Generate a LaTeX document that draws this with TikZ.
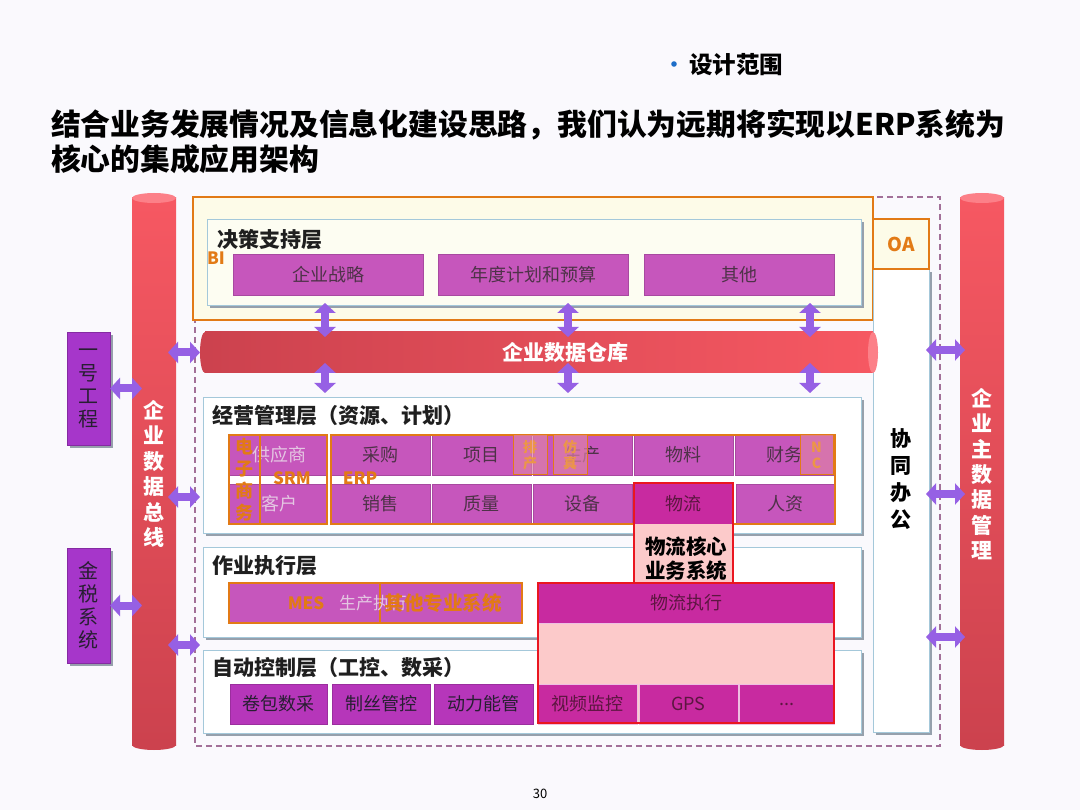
\documentclass[tikz,border=0pt]{standalone}
\usepackage{fontspec}
\setmainfont{Noto Sans CJK SC}
\usepackage{xcolor}
\definecolor{pagebg}{RGB}{250,249,253}
\definecolor{busred}{RGB}{246,88,98}
\definecolor{busdark}{RGB}{204,66,78}
\definecolor{buslight}{RGB}{252,128,136}
\definecolor{cellmag}{RGB}{198,86,188}
\definecolor{celldeep}{RGB}{200,42,160}
\definecolor{ctrlmag}{RGB}{182,54,186}
\definecolor{sideviolet}{RGB}{166,54,202}
\definecolor{arrowviolet}{RGB}{150,96,228}
\definecolor{frameorange}{RGB}{226,122,22}
\definecolor{layerline}{RGB}{164,200,218}
\definecolor{creamfill}{RGB}{253,251,232}
\definecolor{creamlight}{RGB}{253,253,242}
\definecolor{pinkfill}{RGB}{252,202,202}
\definecolor{logred}{RGB}{234,22,32}
\definecolor{celltext}{RGB}{78,50,72}
\definecolor{logtext}{RGB}{92,22,64}
\definecolor{sidetext}{RGB}{40,30,50}
\definecolor{fadetext}{RGB}{228,198,226}
\definecolor{tagfill}{RGB}{222,128,168}
\definecolor{tagtext}{RGB}{236,150,70}
\definecolor{dashpurple}{RGB}{162,112,152}
\definecolor{shadowgray}{RGB}{150,160,172}
\definecolor{bulletblue}{RGB}{30,110,200}
\usepackage{tikz}
\usetikzlibrary{arrows.meta,positioning,shadows}

\begin{document}
\begin{tikzpicture}[x=1pt, y=-1pt,
  every node/.style={inner sep=0pt, outer sep=0pt},
  layer/.style={draw=layerline, fill=white, line width=0.8pt, anchor=north west, drop shadow={shadow xshift=3pt, shadow yshift=-3pt, fill=shadowgray, opacity=1}},
  layertitle/.style={anchor=west, font=\fontsize{21}{23}\selectfont\bfseries, text=black!88},
  cell/.style={draw=cellmag!85!black, fill=cellmag, line width=0.4pt, anchor=north west, minimum width=99pt, minimum height=40pt, text=celltext, font=\fontsize{18}{20}\selectfont},
  ctrlcell/.style={cell, fill=ctrlmag, draw=ctrlmag!85!black, text=sidetext},
  logcell/.style={cell, fill=celldeep, draw=white!70!celldeep, text=logtext},
  tagbox/.style={draw=frameorange, line width=1pt, fill=tagfill, fill opacity=0.7, text opacity=1, anchor=north west, minimum width=34pt, minimum height=40pt, align=center, text=tagtext, font=\fontsize{14}{16}\selectfont\bfseries},
  orangetext/.style={text=frameorange, font=\fontsize{17}{19}\selectfont\bfseries},
  dblarrow/.style={arrowviolet, line width=8pt, {Triangle[width=21pt,length=10pt]}-{Triangle[width=21pt,length=10pt]}},
  busnode/.style={minimum width=44pt, minimum height=547pt, top color=busred, bottom color=busdark},
  sidebox/.style={fill=sideviolet, draw=sideviolet!80!black, minimum width=43pt, align=center, text=sidetext, font=\fontsize{20}{23}\selectfont, drop shadow={shadow xshift=3pt, shadow yshift=-3pt, fill=shadowgray, opacity=1}},
  vbustext/.style={align=center, text=white, font=\fontsize{21}{25.4}\selectfont\bfseries}
]
  % page
  \fill[pagebg] (0,0) rectangle (1080,810);
  \useasboundingbox (0,0) rectangle (1080,810);

  % heading
  \fill[bulletblue] (674,64) circle (2.8);
  \node[anchor=west, font=\fontsize{23.5}{26}\selectfont\bfseries] (scope) at (689,65) {设计范围};
  \node[anchor=north west, align=left, font=\fontsize{29.8}{35}\selectfont\bfseries] (headline) at (51,110) {结合业务发展情况及信息化建设思路，我们认为远期将实现以ERP系统为\\核心的集成应用架构};

  % dashed application frame
  \draw[dashpurple, line width=1.2pt, dash pattern=on 6pt off 4pt] (195,197) rectangle (940,746);

  % two buses
  \fill[busdark] (154,745) ellipse (22 and 5);
  \node[busnode] (bus) at (154,471.5) {};
  \fill[buslight] (bus.north) ellipse (22 and 5);
  \node[vbustext] (bustxt) at (154,474) {企\\业\\数\\据\\总\\线};
  \fill[busdark] (982,745) ellipse (22 and 5);
  \node[busnode] (mdm) at (982,471.5) {};
  \fill[buslight] (mdm.north) ellipse (22 and 5);
  \node[vbustext] (mdmtxt) at (982,474) {企\\业\\主\\数\\据\\管\\理};

  % outside systems
  \node[sidebox, minimum height=113pt] (yihao) at (88.5,388.5) {一\\号\\工\\程};
  \node[sidebox, minimum height=115pt] (jinshui) at (88.5,605.5) {金\\税\\系\\统};

  % decision layer with BI / OA
  \node[draw=frameorange, line width=2pt, fill=creamfill, anchor=north west, minimum width=680pt, minimum height=123pt] (oaframe) at (193,197) {};
  \node[layer, fill=creamlight, minimum width=654pt, minimum height=86pt] (decide) at (207,219) {};
  \node[layertitle] (decidetitle) at (217,240) {决策支持层};
  \node[orangetext, anchor=west] (bi) at (207,258) {BI};
  \node[cell, minimum width=190pt, minimum height=41pt] (zhanlue) at (233,254) {企业战略};
  \node[cell, minimum width=190pt, minimum height=41pt] (yusuan) at (438,254) {年度计划和预算};
  \node[cell, minimum width=190pt, minimum height=41pt] (qita) at (644,254) {其他};

  % office column
  \node[layer, minimum width=56pt, minimum height=463pt] (coop) at (873,269) {};
  \node[align=center, font=\fontsize{21}{27}\selectfont\bfseries] (cooptxt) at (901,479) {协\\同\\办\\公};
  \node[draw=frameorange, line width=2pt, fill=creamfill, anchor=north west, minimum width=56pt, minimum height=50pt, text=frameorange, font=\fontsize{19}{21}\selectfont\bfseries] (oa) at (873,219) {OA};

  % data warehouse
  \fill[busdark] (205,352.5) ellipse (5 and 20.5);
  \node[anchor=north west, minimum width=668pt, minimum height=41pt, left color=busdark, right color=busred] (wh) at (205,332) {};
  \fill[buslight] (wh.east) ellipse (5 and 20.5);
  \node[text=white, font=\fontsize{21}{23}\selectfont\bfseries] (whtxt) at (565,352) {企业数据仓库};

  % management layer
  \node[layer, minimum width=658pt, minimum height=136pt] (mgmt) at (203,397) {};
  \node[layertitle] (mgmttitle) at (212,416) {经营管理层（资源、计划）};
  \node[cell, minimum width=98pt, text=fadetext] (gys) at (229,435) {\hspace*{2pt}供应商};
  \node[cell, minimum width=98pt, text=fadetext] (kehu) at (229,484) {\hspace*{2pt}客户};
  \foreach \nm/\txt [count=\i from 0] in {caigou/采购, xiangmu/项目, shengchan/生产, wuliao/物料, caiwu/财务}
    \node[cell] (\nm) at ({331+101*\i},435) {\txt};
  \foreach \nm/\txt [count=\i from 0] in {xiaoshou/销售, zhiliang/质量, shebei/设备}
    \node[cell] (\nm) at ({331+101*\i},484) {\txt};
  \node[cell] (renzi) at (736,484) {人资};
  \node[draw=frameorange, line width=1.5pt, anchor=north west, minimum width=31pt, minimum height=89pt, align=center, text=frameorange, font=\fontsize{18}{22}\selectfont\bfseries] (dzsw) at (229,435) {电\\子\\商\\务};
  \draw[frameorange, line width=1.5pt] (gys.north west) rectangle (kehu.south east);
  \draw[frameorange, line width=1.5pt] (caigou.north west) rectangle (renzi.south east);
  \node[orangetext] (srm) at (292,478) {SRM};
  \node[orangetext] (erp) at (360,478) {ERP};
  \node[tagbox] (paichan) at (513,435) {排\\产};
  \node[tagbox] (fangzhen) at (553,435) {仿\\真};
  \node[tagbox, minimum width=33pt] (nc) at (800,435) {N\\C};

  % execution layer
  \node[layer, minimum width=658pt, minimum height=90pt] (exec) at (203,547) {};
  \node[layertitle] (exectitle) at (212,566) {作业执行层};
  \node[cell, draw=frameorange, line width=1.5pt, minimum width=151pt] (mes) at (229,583) {};
  \node[cell, draw=frameorange, line width=1.5pt, minimum width=142pt] (zhuanye) at (380,583) {};
  \node[orangetext] (mestxt) at (306,603) {MES};
  \node[anchor=west, text=fadetext, font=\fontsize{17}{19}\selectfont] (scexec) at (339,603) {生产执行};
  \node[orangetext, font=\fontsize{19.5}{21}\selectfont\bfseries] (zhuanyetxt) at (443,603) {其他专业系统};

  % automatic control layer
  \node[layer, minimum width=658pt, minimum height=83pt] (ctrl) at (203,650) {};
  \node[layertitle] (ctrltitle) at (212,668) {自动控制层（工控、数采）};
  \node[ctrlcell, minimum width=97pt] (juanbao) at (230,684) {卷包数采};
  \node[ctrlcell, minimum width=98pt] (zhisi) at (332,684) {制丝管控};
  \node[ctrlcell, minimum width=99pt] (dongli) at (434,684) {动力能管};

  % logistics core business system
  \node[fill=pinkfill, anchor=north west, minimum width=99pt, minimum height=100pt] (logcore) at (634,483) {};
  \node[logcell, draw=none] (wuliu) at (634,484) {物流};
  \draw[logred, line width=2pt] (logcore.north west) rectangle (logcore.south east);
  \node[align=center, font=\fontsize{20.5}{24}\selectfont\bfseries] (logname) at (686,559) {物流核心\\业务系统};
  \node[fill=pinkfill, anchor=north west, minimum width=296pt, minimum height=140pt] (logsys) at (538,583) {};
  \node[logcell, minimum width=296pt] (wlzx) at (538,583) {物流执行};
  \node[logcell] (shipin) at (538,684) {视频监控};
  \node[logcell] (gps) at (639,684) {GPS};
  \node[logcell, minimum width=95pt] (etc) at (739,684) {...};
  \draw[logred, line width=2pt] (logsys.north west) rectangle (logsys.south east);

  % connectors
  \coordinate (va) at (325,0);
  \coordinate (vb) at (568,0);
  \coordinate (vc) at (810,0);
  \coordinate (lrow2) at (0,497);
  \coordinate (lrow3) at (0,645);
  \coordinate (rrow1) at (0,350);
  \coordinate (rrow2) at (0,494);
  \coordinate (rrow3) at (0,637);
  \foreach \c in {va,vb,vc} {
    \draw[dblarrow, shorten <=-2pt, shorten >=-5pt] (\c |- decide.south) -- (\c |- wh.north);
    \draw[dblarrow, shorten <=-10pt, shorten >=4pt] (\c |- wh.south) -- (\c |- mgmt.north);
  }
  \draw[dblarrow, shorten >=-10pt] (yihao.east) -- (bus.west |- yihao.east);
  \draw[dblarrow, shorten >=-10pt] (jinshui.east) -- (bus.west |- jinshui.east);
  \draw[dblarrow, shorten <=-8pt, shorten >=5pt] (bus.east |- wh.west) -- (wh.west);
  \draw[dblarrow, shorten <=-8pt, shorten >=3pt] (bus.east |- lrow2) -- (mgmt.west |- lrow2);
  \draw[dblarrow, shorten <=-8pt, shorten >=3pt] (bus.east |- lrow3) -- (ctrl.west |- lrow3);
  \foreach \r in {rrow1,rrow2,rrow3}
    \draw[dblarrow, shorten <=-3pt, shorten >=-5pt] (coop.east |- \r) -- (mdm.west |- \r);

  % page number
  \node[font=\fontsize{13}{15}\selectfont] (pageno) at (540,794) {30};
\end{tikzpicture}
\end{document}
